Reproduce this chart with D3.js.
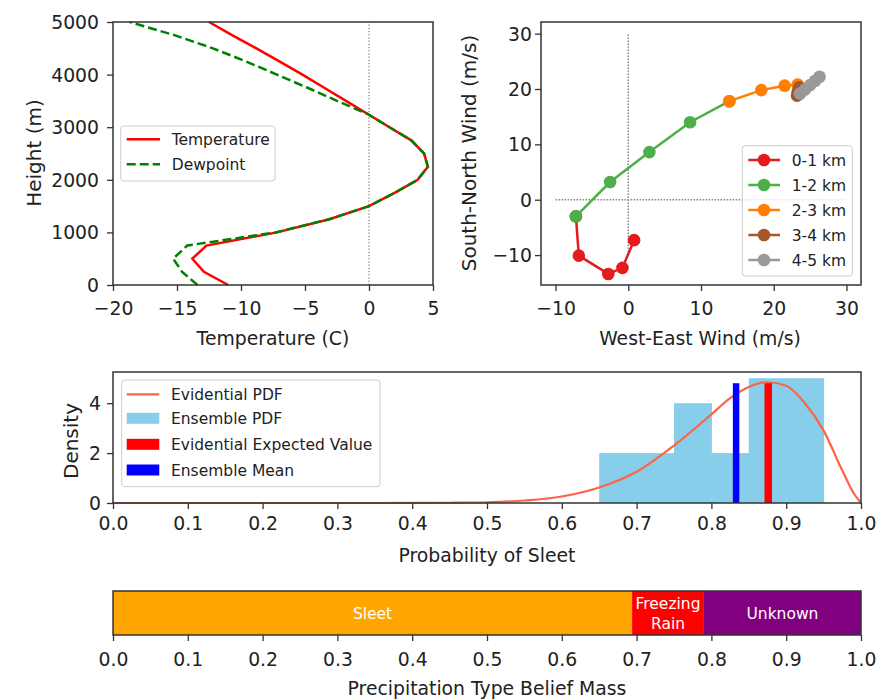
<!DOCTYPE html>
<html><head><meta charset="utf-8">
<script src="https://cdn.jsdelivr.net/npm/d3@7"></script>
<style>
body{margin:0;background:#fff}
svg text{font-family:"DejaVu Sans",sans-serif;fill:#222}
</style>
</head><body>
<svg id="c" width="878" height="699"></svg>
<script>
// ---------- DATA ----------
const heights = [0,250,500,750,1000,1250,1500,1750,2000,2250,2500,2750,3000,3250,3500,3750,4000,4250,4500,4750,5000];
const temperature = [-11.0,-12.9,-13.8,-12.7,-7.2,-3.1,0.0,2.0,3.8,4.6,4.3,3.3,1.6,-0.1,-1.8,-3.5,-5.2,-7.0,-8.8,-10.7,-12.5];
const dewpoint    = [-13.4,-14.6,-15.3,-14.2,-7.3,-3.1,0.0,2.0,3.8,4.6,4.3,3.3,1.6,-0.1,-2.5,-4.8,-7.2,-9.6,-12.2,-15.2,-18.7];

const windLayers = ["0-1 km","1-2 km","2-3 km","3-4 km","4-5 km"];
const layerColors = ["#e41a1c","#4daf4a","#ff7f00","#a65628","#999999"];
const windU = [0.8,-0.8,-2.75,-6.8,-7.2,-2.5,2.9,8.5,13.9,18.3,21.5,23.3,23.5,23.3,23.2,23.3,23.6,24.3,25.0,25.7,26.3];
const windV = [-7.3,-12.3,-13.4,-10.1,-3.0,3.2,8.6,14.0,17.8,19.8,20.6,20.8,20.3,19.5,18.8,19.0,19.2,19.9,20.7,21.5,22.2];

const binEdges = [0.65,0.70,0.75,0.80,0.85,0.90,0.95];
const binDensity = [2,2,4,2,5,5];
const pdfX = [0,0.1,0.2,0.3,0.4,0.45,0.5,0.55,0.6,0.65,0.7,0.75,0.8,0.825,0.85,0.875,0.9,0.925,0.95,0.975,0.99,1.0];
const pdfY = [0,0,0,0,0.003,0.01,0.03,0.1,0.26,0.62,1.25,2.3,3.55,4.2,4.65,4.84,4.7,4.0,2.9,1.3,0.4,0];
const evidentialExpected = 0.876;
const ensembleMean = 0.833;
const markerTop = 4.8;

const precipTypes = ["Sleet","Freezing Rain","Unknown"];
const beliefMass = [0.694,0.096,0.21];
const precipColors = ["#ffa500","#ff0000","#800080"];

// ---------- HELPERS ----------
const svg = d3.select("#c");
const FONT = '"DejaVu Sans", sans-serif';
const INK = "#333";

function frame(x0,y0,x1,y1){
  svg.append("rect").attr("x",x0).attr("y",y0).attr("width",x1-x0).attr("height",y1-y0)
    .attr("fill","none").attr("stroke",INK).attr("stroke-width",1.5);
}
function styleAxis(g){
  g.attr("font-size",20).attr("font-family",FONT);
  g.select(".domain").remove();
  g.selectAll(".tick line").attr("stroke",INK).attr("stroke-width",1.3);
  g.selectAll(".tick text").attr("fill","#222");
}
function bottomAxis(scale, y, ticks, fmt, textOff){
  const g = svg.append("g").attr("transform",`translate(0,${y})`)
    .call(d3.axisBottom(scale).tickValues(ticks).tickFormat(fmt).tickSizeOuter(0).tickSize(6));
  styleAxis(g);
  g.selectAll(".tick text").attr("y",textOff).attr("dy","0.36em");
  return g;
}
function leftAxis(scale, x, ticks, fmt, pad){
  const g = svg.append("g").attr("transform",`translate(${x},0)`)
    .call(d3.axisLeft(scale).tickValues(ticks).tickFormat(fmt).tickSizeOuter(0).tickSize(6).tickPadding(pad));
  styleAxis(g);
  return g;
}
function label(x,y,txt,rot){
  const t = svg.append("text").attr("text-anchor","middle").attr("dominant-baseline","central")
    .attr("font-size",20).text(txt);
  if(rot) t.attr("transform",`translate(${x},${y}) rotate(-90)`);
  else t.attr("x",x).attr("y",y);
  return t;
}
function legendBox(x0,y0,x1,y1){
  svg.append("rect").attr("x",x0).attr("y",y0).attr("width",x1-x0).attr("height",y1-y0)
    .attr("rx",3).attr("fill","#fff").attr("fill-opacity",0.8).attr("stroke","#cccccc").attr("stroke-width",1);
}

// ---------- PANEL 1: profile ----------
const x1 = d3.scaleLinear().domain([-20,5]).range([113,433]);
const y1 = d3.scaleLinear().domain([0,5000]).range([285,22]);
svg.append("line").attr("x1",x1(0)).attr("x2",x1(0)).attr("y1",y1(0)).attr("y2",y1(5000))
  .attr("stroke","#444").attr("stroke-width",0.9).attr("stroke-dasharray","1.2,2");
const prof = d3.line().x(d=>x1(d[0])).y(d=>y1(d[1]));
svg.append("path").attr("d",prof(temperature.map((t,i)=>[t,heights[i]])))
  .attr("fill","none").attr("stroke","#ff0000").attr("stroke-width",2.5);
svg.append("path").attr("d",prof(dewpoint.map((t,i)=>[t,heights[i]])))
  .attr("fill","none").attr("stroke","#008000").attr("stroke-width",2.5).attr("stroke-dasharray","9,4");
frame(113,22,433,285);
bottomAxis(x1,285,[-20,-15,-10,-5,0,5],d3.format("d"),23);
leftAxis(y1,113,[0,1000,2000,3000,4000,5000],d3.format("d"),8);
label(273,338,"Temperature (C)");
label(34,153,"Height (m)",true);
legendBox(120.7,126,275,181);
svg.append("line").attr("x1",126.7).attr("x2",160).attr("y1",139.3).attr("y2",139.3).attr("stroke","#ff0000").attr("stroke-width",2.5);
svg.append("line").attr("x1",126.7).attr("x2",160).attr("y1",164.3).attr("y2",164.3).attr("stroke","#008000").attr("stroke-width",2.5).attr("stroke-dasharray","9,4");
svg.append("text").attr("x",171.7).attr("y",139.3).attr("dominant-baseline","central").attr("font-size",16.5).text("Temperature");
svg.append("text").attr("x",171.7).attr("y",164.3).attr("dominant-baseline","central").attr("font-size",16.5).text("Dewpoint");

// ---------- PANEL 2: hodograph ----------
const x2 = d3.scaleLinear().domain([-12,32]).range([541,861]);
const y2 = d3.scaleLinear().domain([-15.4,32.1]).range([285,22]);
svg.append("line").attr("x1",x2(-10)).attr("x2",x2(30)).attr("y1",y2(0)).attr("y2",y2(0))
  .attr("stroke","#888").attr("stroke-width",1.5).attr("stroke-dasharray","1.5,1.5");
svg.append("line").attr("x1",x2(0)).attr("x2",x2(0)).attr("y1",y2(-10)).attr("y2",y2(30))
  .attr("stroke","#888").attr("stroke-width",1.5).attr("stroke-dasharray","1.5,1.5");
const hodo = d3.line().x(d=>x2(d[0])).y(d=>y2(d[1]));
windLayers.forEach((name,k)=>{
  const pts = d3.range(4*k,4*k+5).map(i=>[windU[i],windV[i]]);
  svg.append("path").attr("d",hodo(pts)).attr("fill","none").attr("stroke",layerColors[k]).attr("stroke-width",2.5);
  svg.append("g").selectAll("circle").data(pts).join("circle")
    .attr("cx",d=>x2(d[0])).attr("cy",d=>y2(d[1])).attr("r",6.3).attr("fill",layerColors[k]);
});
frame(541,22,861,285);
bottomAxis(x2,285,[-10,0,10,20,30],d3.format("d"),23);
leftAxis(y2,541,[-10,0,10,20,30],d3.format("d"),3);
label(700,338,"West-East Wind (m/s)");
label(469,153,"South-North Wind (m/s)",true);
legendBox(742.3,145.7,852.3,276);
windLayers.forEach((name,k)=>{
  const yy = 160 + 25*k;
  svg.append("line").attr("x1",748.3).attr("x2",780).attr("y1",yy).attr("y2",yy).attr("stroke",layerColors[k]).attr("stroke-width",2.5);
  svg.append("circle").attr("cx",764).attr("cy",yy).attr("r",6.3).attr("fill",layerColors[k]);
  svg.append("text").attr("x",791.7).attr("y",yy).attr("dominant-baseline","central").attr("font-size",16.5).text(name);
});

// ---------- PANEL 3: probability ----------
const x3 = d3.scaleLinear().domain([0,1]).range([113,861]);
const y3 = d3.scaleLinear().domain([0,5.25]).range([503,372]);
svg.append("g").selectAll("rect").data(binDensity).join("rect")
  .attr("x",(d,i)=>x3(binEdges[i])).attr("width",(d,i)=>x3(binEdges[i+1])-x3(binEdges[i])+0.5)
  .attr("y",d=>y3(d)).attr("height",d=>y3(0)-y3(d)).attr("fill","#87ceeb");
svg.append("path").attr("d",d3.line().curve(d3.curveMonotoneX).x((d,i)=>x3(pdfX[i])).y(d=>y3(d))(pdfY))
  .attr("fill","none").attr("stroke","#ff6347").attr("stroke-width",2.2);
svg.append("line").attr("x1",x3(ensembleMean)).attr("x2",x3(ensembleMean)).attr("y1",y3(0)).attr("y2",y3(markerTop))
  .attr("stroke","#0000ff").attr("stroke-width",6.5);
svg.append("line").attr("x1",x3(evidentialExpected)).attr("x2",x3(evidentialExpected)).attr("y1",y3(0)).attr("y2",y3(markerTop))
  .attr("stroke","#ff0000").attr("stroke-width",7.5);
frame(113,372,861,503);
bottomAxis(x3,503,d3.range(0,1.0001,0.1),d3.format(".1f"),20);
leftAxis(y3,113,[0,2,4],d3.format("d"),6);
label(487,555,"Probability of Sleet");
label(71,441,"Density",true);
legendBox(121.7,380,380,486.7);
const legY = [394.3,418.3,444.3,470];
svg.append("line").attr("x1",126.7).attr("x2",159.3).attr("y1",legY[0]).attr("y2",legY[0]).attr("stroke","#ff6347").attr("stroke-width",2.2);
[["#87ceeb",1],["#ff0000",2],["#0000ff",3]].forEach(([c,i])=>{
  svg.append("rect").attr("x",126.7).attr("y",legY[i]-5.5).attr("width",32.6).attr("height",11).attr("fill",c);
});
["Evidential PDF","Ensemble PDF","Evidential Expected Value","Ensemble Mean"].forEach((t,i)=>{
  svg.append("text").attr("x",171).attr("y",legY[i]).attr("dominant-baseline","central").attr("font-size",16.5).text(t);
});

// ---------- PANEL 4: belief mass ----------
const x4 = d3.scaleLinear().domain([0,1]).range([113,861]);
const cum = d3.cumsum([0].concat(beliefMass));
const by0 = 591, by1 = 635;
precipTypes.forEach((name,i)=>{
  const xa = x4(cum[i]), xb = x4(cum[i+1]);
  svg.append("rect").attr("x",xa).attr("y",by0).attr("width",xb-xa).attr("height",by1-by0).attr("fill",precipColors[i]);
  const words = (xb-xa) < 100 ? name.split(" ") : [name];
  const t = svg.append("text").attr("text-anchor","middle").attr("font-size",16.5).attr("fill","#fff").style("fill","#fff");
  words.forEach((w,j)=>{
    t.append("tspan").attr("x",(xa+xb)/2).attr("y",(by0+by1)/2 + (j-(words.length-1)/2)*20).attr("dy","0.36em").text(w);
  });
});
frame(113,591,861,635);
bottomAxis(x4,635,d3.range(0,1.0001,0.1),d3.format(".1f"),24);
label(487,688,"Precipitation Type Belief Mass");

// ---------- narrow text like the reference ----------
svg.selectAll("text").each(function(){
  if(this.getAttribute("transform")) return;
  const a = getComputedStyle(this).textAnchor;
  this.style.transformBox = "fill-box";
  this.style.transformOrigin = a==="end" ? "right center" : (a==="middle" ? "center" : "left center");
  this.style.transform = "scaleX(0.94)";
});
</script>
</body></html>
